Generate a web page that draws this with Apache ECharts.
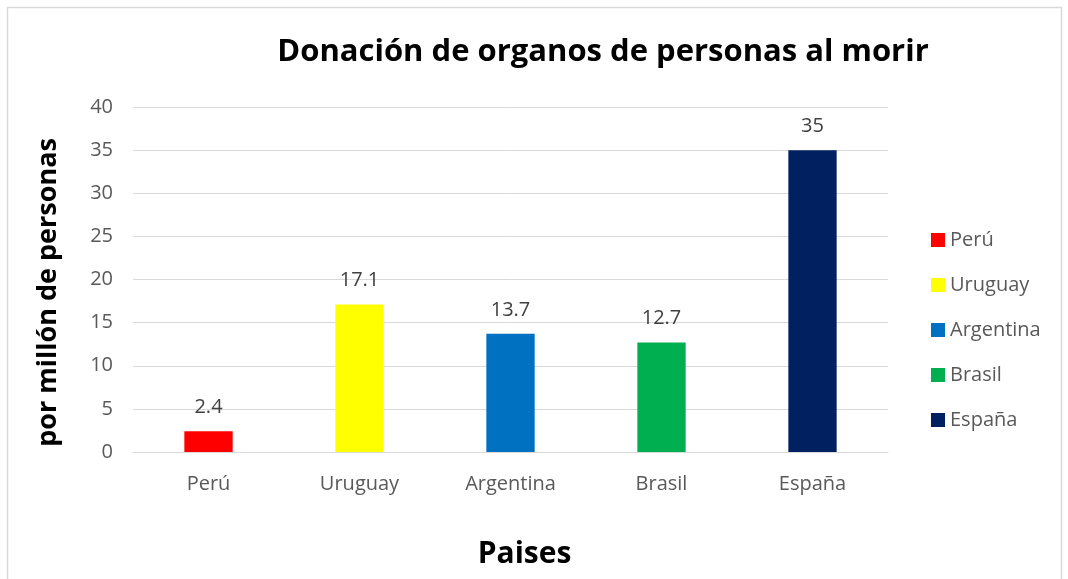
<!DOCTYPE html>
<html><head><meta charset="utf-8">
<script src="https://cdn.jsdelivr.net/npm/echarts@6/dist/echarts.min.js"></script>
<style>html,body{margin:0;padding:0;background:#fff}#c{width:1068px;height:579px}</style>
</head><body><div id="c"></div>
<script>
const categories = ['Perú', 'Uruguay', 'Argentina', 'Brasil', 'España'];
const values = [2.4, 17.1, 13.7, 12.7, 35];
const colors = ['#FF0000', '#FFFF00', '#0070C0', '#00B050', '#002060'];
const yTicks = [0, 5, 10, 15, 20, 25, 30, 35, 40];

const FONT = 'Open Sans';
const series = categories.map((name, i) => ({
  name: name,
  type: 'bar',
  stack: 'all',
  barWidth: '32%',
  itemStyle: { color: colors[i] },
  data: values.map((v, j) => (j === i ? v : '-')),
  label: { show: true, position: 'top', distance: 14, color: '#404040', fontSize: 20, fontFamily: FONT }
}));

const chart = echarts.init(document.getElementById('c'));
chart.setOption({
  animation: false,
  textStyle: { fontFamily: FONT },
  graphic: [{ type: 'rect', shape: { x: 7.5, y: 7.5, width: 1054, height: 600 }, style: { fill: 'none', stroke: '#D9D9D9', lineWidth: 1.5 }, silent: true }],
  title: {
    text: 'Donación de organos de personas al morir',
    left: 598, top: 32, textAlign: 'center',
    textStyle: { fontFamily: FONT, fontWeight: 'bold', fontSize: 31, color: '#000' }
  },
  legend: {
    orient: 'vertical', left: 926, top: 225, itemGap: 25,
    itemWidth: 14, itemHeight: 14, icon: 'rect',
    data: categories,
    textStyle: { fontFamily: FONT, fontSize: 20, color: '#595959' }
  },
  grid: { left: 133, right: 180, top: 107, bottom: 127 },
  xAxis: {
    type: 'category', data: categories,
    name: 'Paises', nameLocation: 'middle', nameGap: 87,
    nameTextStyle: { fontFamily: FONT, fontWeight: 'bold', fontSize: 30, color: '#000', padding: [0, 0, 0, 28] },
    axisLine: { lineStyle: { color: '#D9D9D9' } },
    axisTick: { show: false },
    axisLabel: { color: '#595959', fontSize: 20, margin: 22, fontFamily: FONT }
  },
  yAxis: {
    type: 'value', min: yTicks[0], max: yTicks[yTicks.length - 1], interval: 5,
    name: 'por millón de personas', nameLocation: 'middle', nameGap: 71,
    nameTextStyle: { fontFamily: FONT, fontWeight: 'bold', fontSize: 27, color: '#000', padding: [0, 26, 0, 0] },
    axisLine: { show: false }, axisTick: { show: false },
    axisLabel: { color: '#595959', fontSize: 20, margin: 20, fontFamily: FONT },
    splitLine: { lineStyle: { color: '#D9D9D9', width: 1 } }
  },
  series: series
});
</script></body></html>
